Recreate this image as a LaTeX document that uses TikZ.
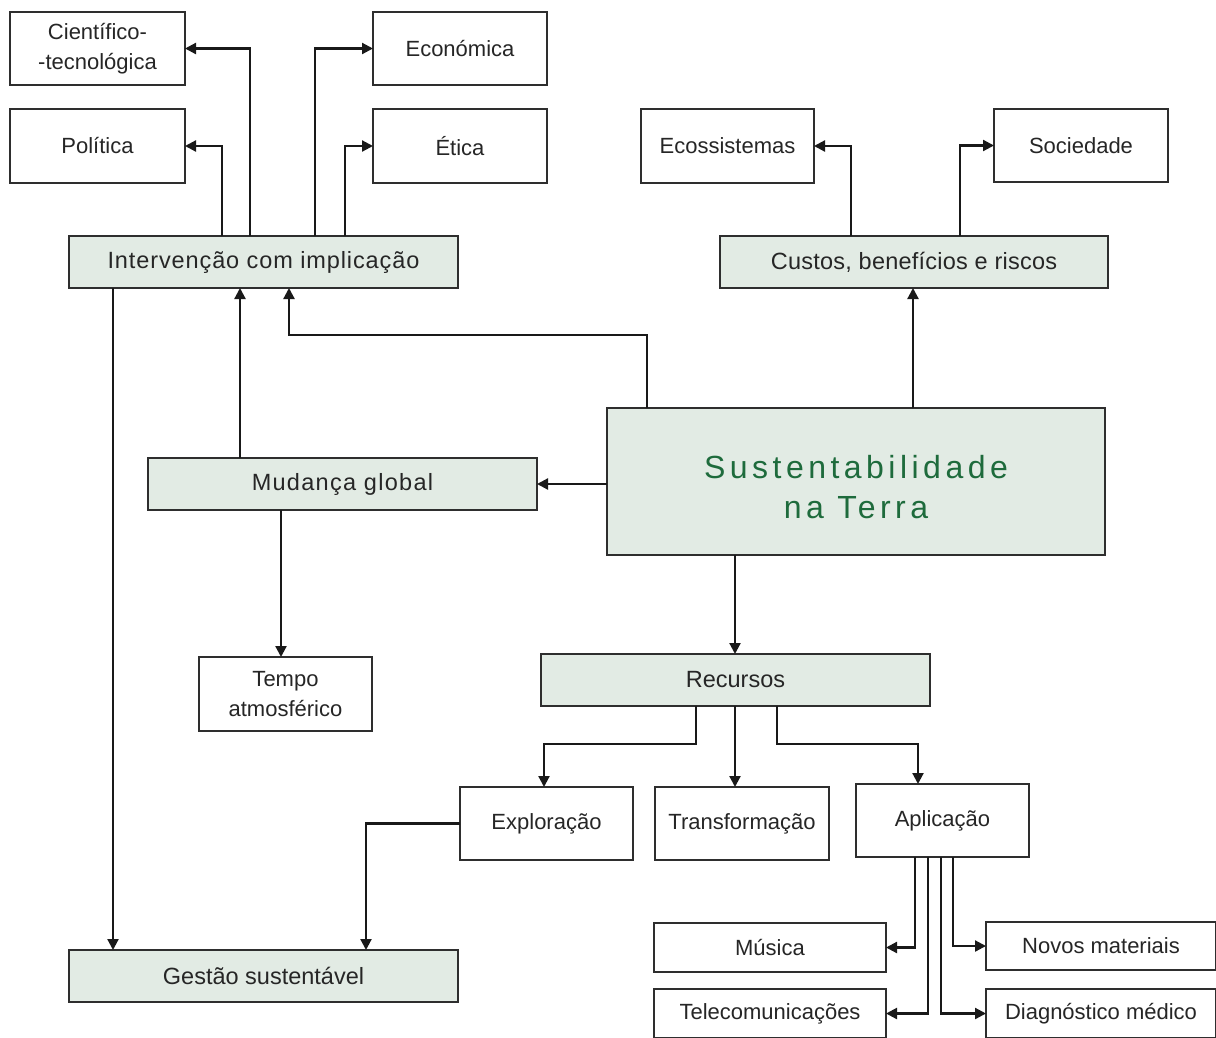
\documentclass[tikz,border=0pt]{standalone}
\usepackage{fontspec}
\setmainfont{Liberation Sans}
\usetikzlibrary{arrows.meta}
\definecolor{shade}{HTML}{E2EBE4}
\definecolor{ttl}{HTML}{1E6B3C}
\definecolor{edge}{HTML}{2E2E2E}
\definecolor{txt}{HTML}{262626}
\begin{document}
\begin{tikzpicture}[x=1pt,y=-1pt,
  box/.style={draw=edge,line width=1.5pt,fill=white,inner sep=0pt,outer sep=0pt,
    align=center,text=txt,font=\fontsize{22}{30}\selectfont},
  sbox/.style={box,fill=shade,font=\fontsize{23.5}{30}\selectfont},
  arr/.style={draw=black!90,line width=2.2pt,-{Triangle[length=11pt,width=11pt]}},
  ttlfont/.style={inner sep=0pt,align=center,text=ttl,
    font=\fontsize{32}{40}\selectfont\addfontfeatures{LetterSpace=14}}]
\useasboundingbox (0,0) rectangle (1216,1037);
% boxes
\node[box,minimum width=175pt,minimum height=73pt] (cient) at (97.5,48.5) {\raisebox{-3pt}{\parbox{170pt}{\centering Científico-\\-tecnológica}}};
\node[box,minimum width=174pt,minimum height=73pt] (econ) at (460,48.5) {Económica};
\node[box,minimum width=175pt,minimum height=74pt] (polit) at (97.5,146) {Política};
\node[box,minimum width=174pt,minimum height=74pt] (etica) at (460,146) {Ética};
\node[sbox,minimum width=389pt,minimum height=52pt] (inter) at (263.5,262) {\addfontfeatures{LetterSpace=3.8}Intervenção com implicação};
\node[box,minimum width=173pt,minimum height=74pt] (ecos) at (727.5,146) {Ecossistemas};
\node[box,minimum width=174pt,minimum height=73pt] (soc) at (1081,145.5) {Sociedade};
\node[sbox,minimum width=388pt,minimum height=52pt] (custos) at (914,262) {\addfontfeatures{LetterSpace=1}Custos, benefícios e riscos};
\node[box,fill=shade,minimum width=498pt,minimum height=147pt] (sust) at (856,481.5) {};
\node[ttlfont] (sustt) at ([yshift=-6pt]sust.center) {Sustentabilidade\\na Terra};
\node[sbox,minimum width=389pt,minimum height=52pt] (mud) at (342.5,484) {\addfontfeatures{LetterSpace=5.5}Mudança global};
\node[box,minimum width=173pt,minimum height=74pt] (tempo) at (285.5,694) {Tempo\\atmosférico};
\node[sbox,minimum width=389pt,minimum height=52pt] (rec) at (735.5,680) {Recursos};
\node[box,minimum width=173pt,minimum height=73pt] (expl) at (546.5,823.5) {Exploração};
\node[box,minimum width=174pt,minimum height=73pt] (trans) at (742,823.5) {Transformação};
\node[box,minimum width=173pt,minimum height=73pt] (apl) at (942.5,820.5) {Aplicação};
\node[sbox,minimum width=389pt,minimum height=52pt] (gest) at (263.5,976) {Gestão sustentável};
\node[box,minimum width=232pt,minimum height=49pt] (mus) at (770,947.5) {Música};
\node[box,minimum width=230pt,minimum height=48pt] (novos) at (1101,946) {Novos materiais};
\node[box,minimum width=232pt,minimum height=49pt] (tel) at (770,1013.5) {Telecomunicações};
\node[box,minimum width=230pt,minimum height=49pt] (diag) at (1101,1013.5) {Diagnóstico médico};
% connector anchor points
\coordinate (p1) at (222,236);
\coordinate (p2) at (250,236);
\coordinate (p3) at (315,236);
\coordinate (p4) at (345,236);
\coordinate (c1) at (851,236);
\coordinate (c2) at (960,236);
\coordinate (s1) at (913,408);
\coordinate (s2) at (647,408);
\coordinate (s2a) at (647,335);
\coordinate (s2b) at (289,335);
\coordinate (m1) at (240,458);
\coordinate (m2) at (281,510);
\coordinate (i1) at (113,288);
\coordinate (s3) at (735,555);
\coordinate (r1) at (696,706);
\coordinate (r1a) at (696,744);
\coordinate (r1b) at (544,744);
\coordinate (r2) at (735,706);
\coordinate (r3) at (777,706);
\coordinate (r3a) at (777,744);
\coordinate (r3b) at (918,744);
\coordinate (g1) at (366,950);
\coordinate (a1) at (915,857);
\coordinate (a2) at (928,857);
\coordinate (a3) at (941,857);
\coordinate (a4) at (953,857);
% connectors
\draw[arr] (p1) |- (polit.east);
\draw[arr] (p2) |- (cient.east);
\draw[arr] (p3) |- (econ.west);
\draw[arr] (p4) |- (etica.west);
\draw[arr] (c1) |- (ecos.east);
\draw[arr] (c2) |- (soc.west);
\draw[arr] (s1) -- (s1 |- custos.south);
\draw[arr] (s2) -- (s2a) -- (s2b) -- (s2b |- inter.south);
\draw[arr] (m1) -- (m1 |- inter.south);
\draw[arr] (sust.west |- mud.east) -- (mud.east);
\draw[arr] (m2) -- (m2 |- tempo.north);
\draw[arr] (i1) -- (i1 |- gest.north);
\draw[arr] (s3) -- (s3 |- rec.north);
\draw[arr] (r1) -- (r1a) -- (r1b) -- (r1b |- expl.north);
\draw[arr] (r2) -- (r2 |- trans.north);
\draw[arr] (r3) -- (r3a) -- (r3b) -- (r3b |- apl.north);
\draw[arr] (expl.west) -| (g1);
\draw[arr] (a1) |- (mus.east);
\draw[arr] (a2) |- (tel.east);
\draw[arr] (a3) |- (diag.west);
\draw[arr] (a4) |- (novos.west);
\end{tikzpicture}
\end{document}
